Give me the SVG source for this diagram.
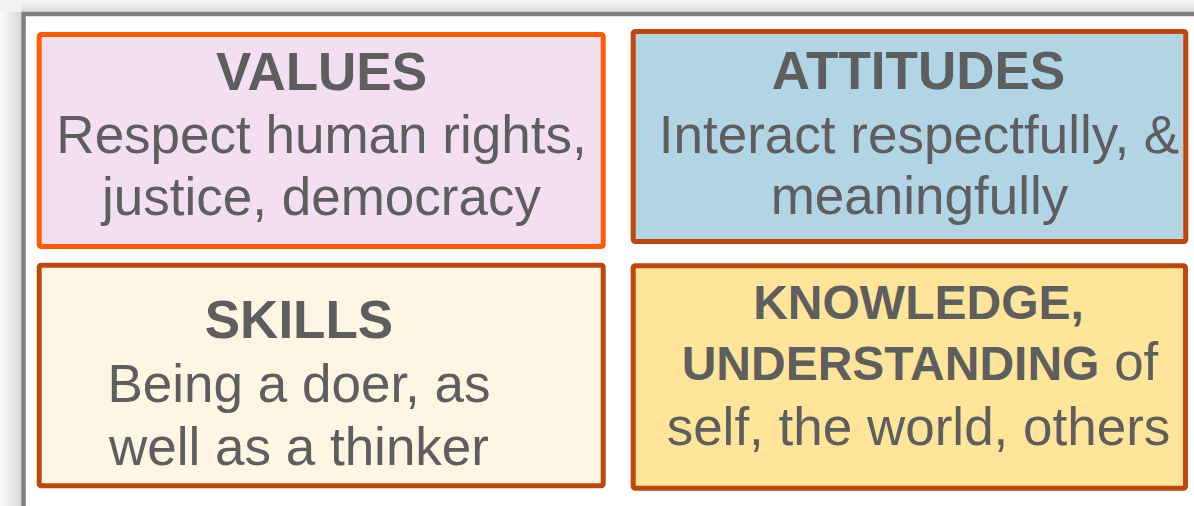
<svg xmlns="http://www.w3.org/2000/svg" width="1194" height="506" viewBox="0 0 1194 506">
<defs>
<linearGradient id="shL" x1="0" y1="0" x2="1" y2="0">
<stop offset="0" stop-color="#fbfbfb"/><stop offset="1" stop-color="#d8d8d8"/>
</linearGradient>
<linearGradient id="shT" x1="0" y1="0" x2="0" y2="1">
<stop offset="0" stop-color="#f6f6f6"/><stop offset="1" stop-color="#dcdcdc"/>
</linearGradient>
<style>
.box{stroke-width:5}
.t{font-family:"Liberation Sans",Arial,sans-serif;font-size:53px;fill:#5e5e5e;text-anchor:middle}
.b{font-weight:bold;font-size:53px}
.kb{font-weight:bold;font-size:48px}
</style>
</defs>
<rect x="0" y="0" width="1194" height="506" fill="#ffffff"/>
<rect x="0" y="0" width="21.5" height="506" fill="url(#shL)"/>
<rect x="0" y="0" width="1194" height="12" fill="url(#shT)"/>
<rect x="0" y="0" width="21.5" height="12" fill="#f2f2f2"/>
<rect x="23.5" y="14" width="1200" height="520" fill="#ffffff" stroke="#7f7f7f" stroke-width="4.5"/>
<g id="values">
<rect class="box" x="39.2" y="34.5" width="564" height="212" rx="2" fill="#f4dff2" stroke="#ff5b00"/>
<text class="t b" x="321.5" y="90">VALUES</text>
<text class="t" x="321.5" y="153">Respect human rights,</text>
<text class="t" x="321.5" y="215">justice, democracy</text>
</g>
<g id="attitudes">
<rect class="box" x="633.2" y="31.5" width="552.6" height="210" rx="2" fill="#b2d5e5" stroke="#c0470a"/>
<text class="t b" x="918.5" y="89">ATTITUDES</text>
<text class="t" x="919" y="153">Interact respectfully, &amp;</text>
<text class="t" x="919.5" y="214">meaningfully</text>
</g>
<g id="skills">
<rect class="box" x="39.2" y="265.2" width="564" height="220.6" rx="2" fill="#fff5e3" stroke="#c0470a"/>
<text class="t b" x="299" y="338">SKILLS</text>
<text class="t" x="299" y="401.5">Being a doer, as</text>
<text class="t" x="299" y="465">well as a thinker</text>
</g>
<g id="knowledge">
<rect class="box" x="633.2" y="265.8" width="552.3" height="222.4" rx="2" fill="#ffe599" stroke="#c0470a"/>
<text class="t kb" x="918.5" y="319">KNOWLEDGE,</text>
<text class="t" x="920" y="380"><tspan class="kb">UNDERSTANDING</tspan> of</text>
<text class="t" x="918.5" y="444.5">self, the world, others</text>
</g>
<g id="connectors"/>
</svg>
